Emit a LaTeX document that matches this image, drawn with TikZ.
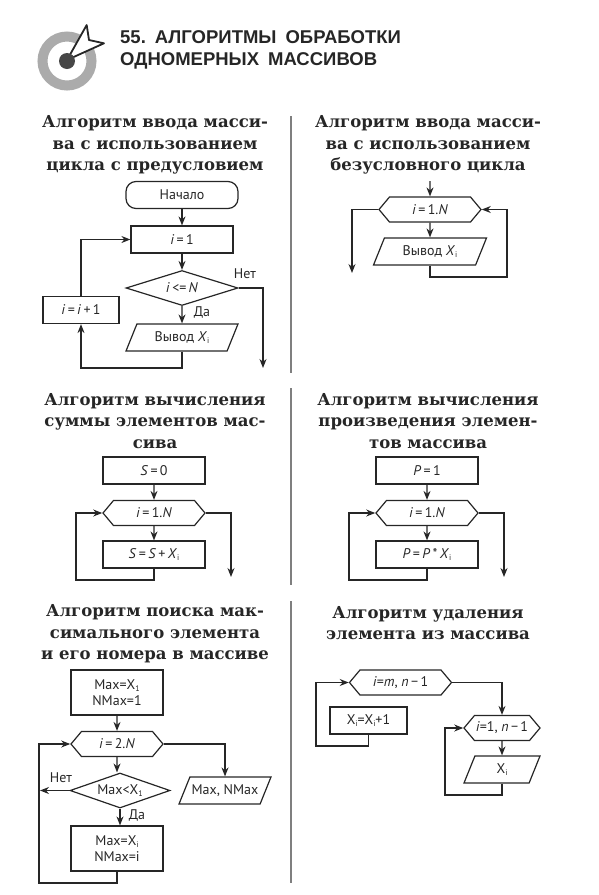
\documentclass[tikz,border=0pt]{standalone}
\usepackage{xcolor}
\usepackage{fontspec}
\setmainfont{PT Sans}
\newfontfamily\headsans{Liberation Sans}
\newfontfamily\headserif{DejaVu Serif}
\usetikzlibrary{arrows.meta, positioning, shapes.geometric, shapes.symbols}
\definecolor{flowink}{HTML}{262626}
\definecolor{ringgray}{HTML}{ABABAB}
\definecolor{sepgray}{HTML}{7F7F7F}
\newcommand{\idx}[1]{\raisebox{-0.4ex}{\fontsize{8}{8}\selectfont #1}}
\newcommand{\ivar}{\textit{i}}
\newcommand{\Xsub}{\textit{X}\idx{i}}
\newcommand{\gap}{\hspace{9pt}}
\tikzset{
    flowbox/.style={draw=flowink, line width=1.2pt, minimum width=#1, minimum height=27pt, inner sep=0pt},
    flowbox/.default=102pt,
    flowterm/.style={flowbox=112pt, rounded corners=10pt},
    flowhex/.style={signal, signal to=east and west, signal pointer angle=100, draw=flowink, line width=1.2pt, minimum width=#1, minimum height=25pt, inner sep=0pt},
    flowhex/.default=102pt,
    flowdia/.style={diamond, aspect=3, draw=flowink, line width=1.2pt, minimum width=#1, minimum height=35pt, inner sep=0pt},
    flowpara/.style={trapezium, trapezium left angle=68, trapezium right angle=112, trapezium stretches body, draw=flowink, line width=1.2pt, minimum width=#1, text height=10pt, text depth=3pt, inner ysep=7pt, inner xsep=0pt},
    flowarr/.style={-{Stealth[length=9pt, width=7pt]}, line width=1.2pt, flowink},
    flowlabel/.style={inner sep=0pt},
    headtitle/.style={font=\headserif\bfseries\fontsize{16.5}{21.5}\selectfont, align=center, text=flowink, inner sep=0pt},
    sepline/.style={line width=1.4pt, sepgray}
}
\begin{document}
\begin{tikzpicture}[x=1pt, y=-1pt, every node/.append style={font=\fontsize{14}{16.5}\selectfont, text=flowink}]
    \useasboundingbox (0,0) rectangle (598,895);

    % Target icon
    \draw[line width=10pt, ringgray] (67,61) circle (24.5);
    \fill[white, draw=flowink, line width=1.8pt, line join=round] (67,60) -- (86.7,25) -- (89,40) -- (104,43.3) -- cycle;
    \fill[flowink!85] (67,61) circle (8);

    % Main title
    \node[font=\headsans\bfseries\fontsize{18.5}{22}\selectfont, align=left, anchor=west, inner sep=0pt] (maintitle) at (120,50) {55.\gap АЛГОРИТМЫ\gap ОБРАБОТКИ\\ОДНОМЕРНЫХ\gap МАССИВОВ};

    % Separators
    \coordinate (septopa) at (291,116); \coordinate (sependa) at (291,373);
    \coordinate (septopb) at (291,388); \coordinate (sependb) at (291,585);
    \coordinate (septopc) at (291,601); \coordinate (sependc) at (291,883);
    \draw[sepline] (septopa) -- (sependa);
    \draw[sepline] (septopb) -- (sependb);
    \draw[sepline] (septopc) -- (sependc);

    % Input with precondition
    \node[headtitle] (heada) at (155,145) {Алгоритм ввода масси-\\ва с использованием\\цикла с предусловием};
    \node[flowterm] (starta) at (182,195) {Начало};
    \node[flowbox] (inita) at (182,239.5) {\ivar\,=\,1};
    \node[flowdia=112pt] (conda) at (182,288) {\ivar\,<=\,\textit{N}};
    \node[flowbox=76pt] (inca) at (81,310) {\ivar\,=\,\ivar\,+\,1};
    \node[flowpara=112pt] (outa) at (182,337.5) {Вывод \Xsub};
    \node[flowlabel] (yesa) at (202,312) {Да};
    \node[flowlabel] (noa) at (245,274) {Нет};
    \coordinate (loopa) at (81,368);
    \coordinate (exita) at (263,368);
    \draw[flowarr] (starta) -- (inita);
    \draw[flowarr] (inita) -- (conda);
    \draw[flowarr] (conda) -- (outa);
    \draw[flowarr] (conda.east) -| (exita);
    \draw[flowarr] (outa.south) |- (loopa) -- (inca.south);
    \draw[flowarr] (inca.north) |- (inita.west);

    % Input with counted loop
    \node[headtitle] (headb) at (428,145) {Алгоритм ввода масси-\\ва с использованием\\безусловного цикла};
    \coordinate (entryb) at (430,181);
    \node[flowhex] (hexb) at (430,209.5) {\ivar\,=\,1.\textit{N}};
    \node[flowpara=113pt] (outb) at (430,251.5) {Вывод \Xsub};
    \coordinate (exitb) at (352,273);
    \coordinate (loopb) at (507,277);
    \draw[flowarr] (entryb) -- (hexb);
    \draw[flowarr] (hexb) -- (outb);
    \draw[flowarr] (hexb.west) -| (exitb);
    \draw[flowarr] (outb.south) |- (loopb) |- (hexb.east);

    % Sum of elements
    \node[headtitle] (headc) at (155,421) {Алгоритм вычисления\\суммы элементов мас-\\сива};
    \node[flowbox] (initc) at (154,470.5) {\textit{S}\,=\,0};
    \node[flowhex] (hexc) at (154,513) {\ivar\,=\,1.\textit{N}};
    \node[flowbox] (bodyc) at (154,554.5) {\textit{S}\,=\,\textit{S}\,+\,\Xsub};
    \coordinate (loopc) at (76,580);
    \coordinate (exitc) at (231,577);
    \draw[flowarr] (initc) -- (hexc);
    \draw[flowarr] (hexc) -- (bodyc);
    \draw[flowarr] (hexc.east) -| (exitc);
    \draw[flowarr] (bodyc.south) |- (loopc) |- (hexc.west);

    % Product of elements
    \node[headtitle] (headd) at (428,421) {Алгоритм вычисления\\произведения элемен-\\тов массива};
    \node[flowbox] (initd) at (427,470.5) {\textit{P}\,=\,1};
    \node[flowhex] (hexd) at (427,513) {\ivar\,=\,1.\textit{N}};
    \node[flowbox] (bodyd) at (427,554.5) {\textit{P}\,=\,\textit{P}\,*\,\Xsub};
    \coordinate (loopd) at (349,580);
    \coordinate (exitd) at (504,577);
    \draw[flowarr] (initd) -- (hexd);
    \draw[flowarr] (hexd) -- (bodyd);
    \draw[flowarr] (hexd.east) -| (exitd);
    \draw[flowarr] (bodyd.south) |- (loopd) |- (hexd.west);

    % Maximum search
    \node[headtitle] (heade) at (155,634) {Алгоритм поиска мак-\\симального элемента\\и его номера в массиве};
    \node[flowbox=92pt, minimum height=45pt, align=center] (inite) at (117,692.5) {Max=X\idx{1}\\NMax=1};
    \node[flowhex=92pt] (hexe) at (117,744) {\ivar\,=\,2.\textit{N}};
    \node[flowdia=100pt] (conde) at (120,790.5) {Max<X\idx{1}};
    \node[flowpara=92pt] (oute) at (225,790.5) {Max, NMax};
    \node[flowbox=92pt, minimum height=45pt, align=center] (bodye) at (117,848.5) {Max=X\idx{i}\\NMax=i};
    \node[flowlabel] (yese) at (137,815) {Да};
    \node[flowlabel] (noe) at (61,778) {Нет};
    \coordinate (noende) at (40,790.5);
    \coordinate (loope) at (39,883);
    \draw[flowarr] (inite) -- (hexe);
    \draw[flowarr] (hexe) -- (hexe |- conde.north);
    \draw[flowarr] (conde) -- (conde |- bodye.north);
    \draw[flowarr] (conde.west) -- (noende);
    \draw[flowarr] (hexe.east) -| (oute.north);
    \draw[flowarr] (bodye.south) |- (loope) |- (hexe.west);

    % Element removal
    \node[headtitle] (headf) at (428,623) {Алгоритм удаления\\элемента из массива};
    \node[flowhex] (hexf) at (400.5,682.5) {\ivar=\textit{m}, \textit{n}\,−\,1};
    \node[flowbox=77pt] (bodyf) at (368.5,720.5) {X\idx{i}=X\idx{i}+1};
    \node[flowhex=76pt] (hexg) at (502,728) {\ivar=1, \textit{n}\,−\,1};
    \node[flowpara=76pt] (outg) at (502,769.5) {X\idx{i}};
    \coordinate (loopf) at (316,746);
    \coordinate (loopg) at (445,795);
    \draw[flowarr] (bodyf.south) |- (loopf) |- (hexf.west);
    \draw[flowarr] (hexf.east) -| (hexg.north);
    \draw[flowarr] (hexg) -- (outg);
    \draw[flowarr] (outg.south) |- (loopg) |- (hexg.west);
\end{tikzpicture}
\end{document}
